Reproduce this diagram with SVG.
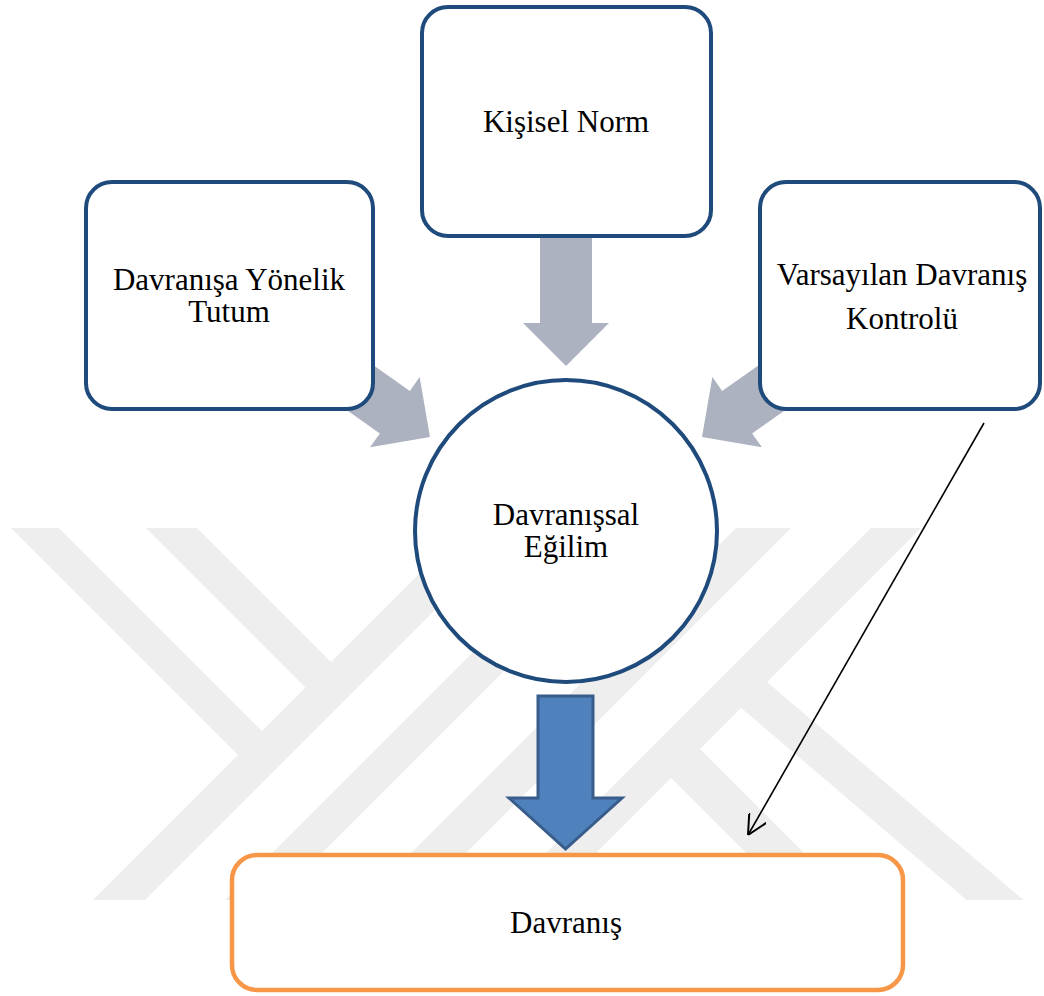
<svg xmlns="http://www.w3.org/2000/svg" width="1044" height="996" viewBox="0 0 1044 996">
<style>
.node{fill:#ffffff;stroke:#1F4A7C;stroke-width:4}
.lbl{font-family:"Liberation Serif","Times New Roman",serif;font-size:31px;fill:#000000;text-anchor:middle}
.wm{fill:#EEEEEE}
.garrow{fill:#ACB2BF}
</style>
<defs>
<clipPath id="wmclip"><rect x="0" y="528" width="1044" height="372"/></clipPath>
<marker id="openhead" viewBox="0 0 20 20" refX="20" refY="10" markerWidth="20" markerHeight="20" markerUnits="userSpaceOnUse" orient="auto">
<path d="M0,0 L20,10 L0,20" fill="none" stroke="#000000" stroke-width="2"/>
</marker>
<polygon id="garrowshape" points="-133,-26 -43,-26 -43,-43 0,0 -43,43 -43,26 -133,26"/>
</defs>
<rect x="0" y="0" width="1044" height="996" fill="#ffffff"/>
<g id="watermark" clip-path="url(#wmclip)">
<polygon class="wm" points="-17,500 31,500 270.5,739.5 246.5,763.5"/>
<polygon class="wm" points="118,500 169,500 339.5,670.5 314,696"/>
<polygon class="wm" points="493,500 545,500 125,920 73,920"/>
<polygon class="wm" points="625,500 675,500 255,920 205,920"/>
<polygon class="wm" points="764,500 819,500 399,920 344,920"/>
<polygon class="wm" points="899,500 949,500 529,920 479,920"/>
<polygon class="wm" points="752,669 767,682 1047,920 990,920 740,707 725,694"/>
<polygon class="wm" points="683,732 698,747 871,920 813,920 670,777 655,762"/>
</g>
<g id="connectors">
<polygon class="garrow" points="540,230 592,230 592,323 609,323 566,366 523,323 540,323"/>
<use href="#garrowshape" class="garrow" transform="translate(430,437) rotate(35.2)"/>
<use href="#garrowshape" class="garrow" transform="translate(702,437) rotate(144.8)"/>
</g>
<g id="node-kisisel-norm">
<rect class="node" x="422" y="7" width="289" height="229" rx="26"/>
<text class="lbl" x="566" y="132">Kişisel Norm</text>
</g>
<g id="node-tutum">
<rect class="node" x="86" y="182" width="287" height="227" rx="26"/>
<text class="lbl" x="229" y="290">Davranışa Yönelik</text>
<text class="lbl" x="229" y="322">Tutum</text>
</g>
<g id="node-kontrol">
<rect class="node" x="760" y="182" width="280" height="227" rx="26"/>
<text class="lbl" x="902" y="285">Varsayılan Davranış</text>
<text class="lbl" x="902" y="329">Kontrolü</text>
</g>
<g id="node-egilim">
<circle class="node" cx="566" cy="531" r="151"/>
<text class="lbl" x="566" y="525">Davranışsal</text>
<text class="lbl" x="566" y="557">Eğilim</text>
</g>
<g id="connectors-lower">
<polygon points="538,696 593,696 593,798 622,798 565.5,849 509,798 538,798" fill="#4F81BD" stroke="#385D8A" stroke-width="3" stroke-linejoin="miter"/>
<line x1="984" y1="423" x2="748" y2="835" stroke="#000000" stroke-width="1.6" marker-end="url(#openhead)"/>
</g>
<g id="node-davranis">
<rect x="232" y="855" width="671" height="135" rx="25" fill="#ffffff" stroke="#F79646" stroke-width="4.5"/>
<text class="lbl" x="566" y="933">Davranış</text>
</g>
</svg>
